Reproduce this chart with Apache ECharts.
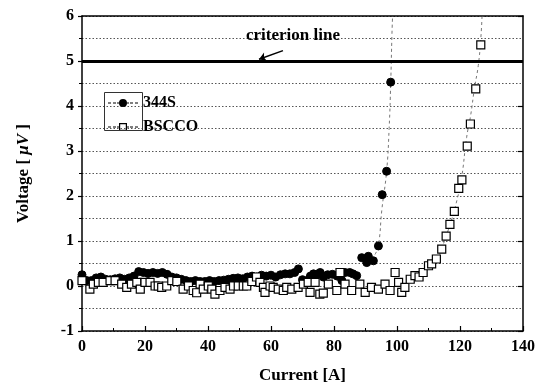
<!DOCTYPE html>
<html><head><meta charset="utf-8">
<script src="https://cdn.jsdelivr.net/npm/echarts@6/dist/echarts.min.js"></script>
<style>html,body{margin:0;padding:0;background:#fff}#c{width:538px;height:389px}</style>
</head><body><div id="c"></div><script>
// ---- data ----
const xTicks = [0, 20, 40, 60, 80, 100, 120, 140];
const yTicks = [-1, 0, 1, 2, 3, 4, 5, 6];
const seriesNames = ['344S', 'BSCCO'];

const current344S = [0,1.5,3,4.5,6,7.5,9,10.5,12,13.5,15,16.5,18,19.5,21,22.5,24,25.5,27,28.5,30,31.5,33,34.5,36,37.5,39,40.5,42,43.5,45,46.5,48,49.5,51,52.5,54,55.5,57,58.5,60,61.5,63,64.5,66,67.5,68.7,70,71.5,72.5,73.5,74.5,75.6,76.6,78,79.5,81,82.5,83.5,85,86,87.2,88.8,90.4,90.9,92.5,94.1,95.3,96.7,98.0];
const voltage344S = [0.25,0.12,0.12,0.18,0.2,0.15,0.14,0.16,0.18,0.15,0.18,0.22,0.32,0.3,0.28,0.3,0.28,0.3,0.26,0.2,0.18,0.15,0.12,0.1,0.12,0.1,0.1,0.12,0.1,0.12,0.13,0.15,0.17,0.18,0.16,0.2,0.22,0.2,0.24,0.22,0.24,0.2,0.25,0.27,0.27,0.3,0.38,0.14,0.12,0.22,0.27,0.26,0.3,0.2,0.25,0.26,0.22,0.12,0.3,0.3,0.27,0.23,0.63,0.52,0.66,0.56,0.89,2.03,2.55,4.53];

const currentBSCCO = [0,2.5,3.6,5.2,6.7,8.9,10.5,12.6,14.2,15.7,17.4,18.5,20,21.6,23.2,24.2,25.3,26.9,28.5,30.1,32.1,33.8,35.3,36.4,37.5,38.5,40.1,41.2,42.2,43.8,45.4,47,48.1,49.6,51.2,52.3,53.9,55.4,56.5,57.6,58.1,59.7,60.7,62.3,63.9,65,66.6,68.6,70.3,71.8,72.4,74,75.5,76.6,78.2,80.9,81.9,83.5,85.6,88.2,89.9,91.9,94.1,96.2,97.8,99.4,100.5,101.5,102.5,104.2,105.7,107,108.3,110,111,112.5,114.2,115.6,116.8,118.2,119.6,120.6,122.3,123.3,125,126.6];
const voltageBSCCO = [0.12,-0.07,0.04,0.08,0.08,0.12,0.12,0.04,-0.03,0.04,0.08,-0.07,0.08,0.08,0,0,-0.03,0,0.12,0.1,-0.07,0,-0.1,-0.15,0.04,-0.07,0,-0.07,-0.18,-0.1,-0.03,-0.07,0,0,0,0,0.1,0.2,0.08,-0.03,-0.14,0,-0.03,-0.07,-0.1,-0.03,-0.07,-0.03,0.04,0.08,-0.14,0.08,-0.18,-0.16,0.04,-0.1,0.3,0.04,-0.1,0.04,-0.14,-0.03,-0.07,0.04,-0.1,0.3,0.08,-0.14,-0.03,0.15,0.23,0.2,0.3,0.45,0.49,0.6,0.82,1.11,1.37,1.66,2.17,2.36,3.11,3.6,4.38,5.36];

const fit344SCurrent = [93.0,94.1,95.2,96.7,97.5,98.0,98.4,98.6];
const fit344SVoltage = [0.7,0.9,1.7,2.55,3.5,4.5,5.6,6.0];
const fitBSCCOCurrent = [113.5,117,119,120.5,122.1,123.4,124.6,125.8,126.6,127.0];
const fitBSCCOVoltage = [0.7,1.4,1.9,2.4,3.3,3.8,4.4,4.9,5.5,6.0];

const criterionVoltage = 5;
const arrowFrom = [63.8, 5.23];
const arrowTo = [56.2, 5.04];
const annotationText = 'criterion line';

// ---- chart ----
const zip = (a, b) => a.map((v, i) => [v, b[i]]);
const FONT = 'Liberation Serif';
const chart = echarts.init(document.getElementById('c'), null, {renderer: 'canvas'});
const gridDash = {color: '#555', width: 1, type: [1.5, 2]};

// legend icons: dashed line with the series marker in the middle
const dashes = 'M0,4.1h3v0.9h-3z M5,4.1h3v0.9h-3z M22,4.1h3v0.9h-3z M27,4.1h3v0.9h-3z';
const iconDot = 'path://' + dashes + ' M9,4.1h2v0.9h-2z M19,4.1h2v0.9h-2z M19,4.5A4,4 0 1,1 11,4.5A4,4 0 1,1 19,4.5Z';
const iconSquare = 'path://' + dashes + ' M9,4.1h2v0.9h-2z M19,4.1h2v0.9h-2z M11,0.5h8v8h-8z M12.2,1.7v5.6h5.6v-5.6z';

chart.setOption({
  animation: false,
  backgroundColor: '#fff',
  grid: {left: 82, right: 15, top: 16, bottom: 57, containLabel: false},
  xAxis: [{
    type: 'value', min: xTicks[0], max: xTicks[xTicks.length - 1], interval: 20,
    name: 'Current [A]', nameLocation: 'middle', nameGap: 36,
    nameTextStyle: {fontFamily: FONT, fontWeight: 'bold', fontSize: 17, color: '#000'},
    axisLine: {show: true, onZero: false, lineStyle: {color: '#000', width: 1.5}},
    axisTick: {show: true, inside: true, length: 5, lineStyle: {color: '#000', width: 1.2}},
    minorTick: {show: true, splitNumber: 2, length: 3, lineStyle: {color: '#000'}},
    axisLabel: {fontFamily: FONT, fontWeight: 'bold', fontSize: 16, color: '#000', margin: 8},
    splitLine: {show: false}
  }, {
    type: 'value', position: 'top', min: xTicks[0], max: xTicks[xTicks.length - 1], interval: 20,
    axisLine: {show: true, onZero: false, lineStyle: {color: '#000', width: 1.5}},
    axisTick: {show: false}, axisLabel: {show: false}, splitLine: {show: false}
  }],
  yAxis: [{
    type: 'value', min: yTicks[0], max: yTicks[yTicks.length - 1], interval: 1,
    name: 'Voltage [ {i|μV} ]', nameLocation: 'middle', nameGap: 50, nameRotate: 90,
    nameTextStyle: {fontFamily: FONT, fontWeight: 'bold', fontSize: 17, color: '#000',
      rich: {i: {fontFamily: FONT, fontWeight: 'bold', fontStyle: 'italic', fontSize: 17, color: '#000'}}},
    axisLine: {show: true, onZero: false, lineStyle: {color: '#000', width: 1.5}},
    axisTick: {show: true, inside: false, length: 4, lineStyle: {color: '#000', width: 1.2}},
    minorTick: {show: true, splitNumber: 2, length: 3, lineStyle: {color: '#000'}},
    axisLabel: {fontFamily: FONT, fontWeight: 'bold', fontSize: 16, color: '#000', margin: 8},
    splitLine: {show: true, lineStyle: gridDash},
    minorSplitLine: {show: true, lineStyle: gridDash}
  }, {
    type: 'value', position: 'right', min: yTicks[0], max: yTicks[yTicks.length - 1], interval: 1,
    axisLine: {show: true, onZero: false, lineStyle: {color: '#000', width: 1.5}},
    axisTick: {show: true, inside: true, length: 5, lineStyle: {color: '#000', width: 1.2}},
    axisLabel: {show: false}, splitLine: {show: false}
  }],
  legend: {
    data: [
      {name: seriesNames[0], icon: iconDot, itemStyle: {color: '#000', borderWidth: 0}},
      {name: seriesNames[1], icon: iconSquare, itemStyle: {color: '#000', borderWidth: 0}}
    ],
    orient: 'vertical', left: 108, top: 95,
    itemWidth: 30, itemHeight: 9, itemGap: 8, padding: 0,
    textStyle: {fontFamily: FONT, fontWeight: 'bold', fontSize: 16, color: '#000'}
  },
  graphic: [
    {type: 'rect', left: 102, top: 90, shape: {width: 38, height: 38},
     style: {fill: 'none', stroke: '#333', lineWidth: 1}, silent: true, z: 100},
    {type: 'text', left: 246, top: 27,
     style: {text: annotationText, font: 'bold 17px "Liberation Serif"', fill: '#000'}, z: 100}
  ],
  series: [
    {
      name: 'fit344S', type: 'line', data: zip(fit344SCurrent, fit344SVoltage),
      showSymbol: false, smooth: true, lineStyle: {color: '#777', width: 1, type: [3, 3]}, z: 1,
      markLine: {
        silent: true, symbol: 'none', animation: false, label: {show: false},
        data: [{yAxis: criterionVoltage, lineStyle: {color: '#000', width: 3, type: 'solid'}}]
      }
    },
    {
      name: 'fitBSCCO', type: 'line', data: zip(fitBSCCOCurrent, fitBSCCOVoltage),
      showSymbol: false, smooth: true, lineStyle: {color: '#777', width: 1, type: [3, 3]}, z: 1,
      markLine: {
        silent: true, symbol: ['none', 'arrow'], symbolSize: 7, animation: false, label: {show: false},
        lineStyle: {color: '#000', width: 1.5, type: 'solid'},
        data: [[{coord: arrowFrom}, {coord: arrowTo}]]
      }
    },
    {
      name: '344S', type: 'scatter', data: zip(current344S, voltage344S),
      symbol: 'circle', symbolSize: 8,
      itemStyle: {color: '#000', borderColor: '#000', opacity: 1}, z: 3
    },
    {
      name: 'BSCCO', type: 'scatter', data: zip(currentBSCCO, voltageBSCCO),
      symbol: 'rect', symbolSize: 8,
      itemStyle: {color: '#fff', borderColor: '#000', borderWidth: 1.2, opacity: 1}, z: 4
    }
  ]
});
</script></body></html>
